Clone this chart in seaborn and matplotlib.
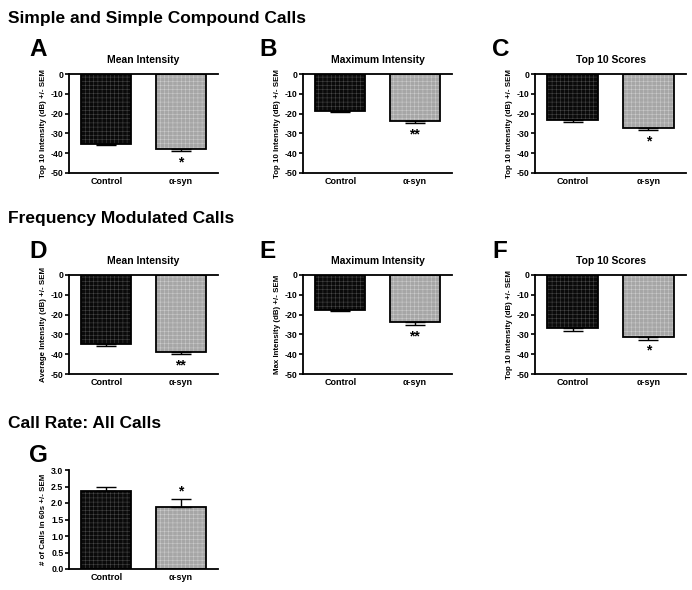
import numpy as np
import pandas as pd
import matplotlib
matplotlib.use("Agg")
import matplotlib.pyplot as plt
from matplotlib.patches import Rectangle
import seaborn as sns

sns.set_style("white")
plt.rcParams["font.family"] = ["Liberation Sans", "DejaVu Sans"]
plt.rcParams["axes.unicode_minus"] = False
plt.rcParams["hatch.linewidth"] = 0.35
plt.rcParams["text.color"] = "black"
plt.rcParams["axes.labelcolor"] = "black"
plt.rcParams["xtick.color"] = "black"
plt.rcParams["ytick.color"] = "black"

# ---- data ----
groups = ["Control", "α-syn"]

a_mean = [-35.3, -37.8]
a_sem = [0.8, 1.2]
b_mean = [-18.5, -23.5]
b_sem = [0.5, 1.2]
c_mean = [-23.2, -27.2]
c_sem = [0.8, 1.0]
d_mean = [-35.0, -38.9]
d_sem = [0.7, 0.9]
e_mean = [-17.7, -23.8]
e_sem = [0.7, 1.4]
f_mean = [-26.9, -31.3]
f_sem = [1.2, 1.4]
g_mean = [2.37, 1.89]
g_sem = [0.12, 0.22]

panel_letters = ["A", "B", "C", "D", "E", "F", "G"]
panel_titles = ["Mean Intensity", "Maximum Intensity", "Top 10 Scores",
                "Mean Intensity", "Maximum Intensity", "Top 10 Scores", ""]
y_labels = ["Top 10 Intensity (dB) +/- SEM", "Top 10 Intensity (dB) +/- SEM",
            "Top 10 Intensity (dB) +/- SEM", "Average Intensity (dB) +/- SEM",
            "Max Intensity (dB) +/- SEM", "Top 10 Intensity (dB) +/- SEM",
            "# of Calls in 60s +/- SEM"]
stars = ["*", "**", "*", "**", "**", "*", "*"]
section_titles = ["Simple and Simple Compound Calls",
                  "Frequency Modulated Calls", "Call Rate: All Calls"]

means = [a_mean, b_mean, c_mean, d_mean, e_mean, f_mean, g_mean]
sems = [a_sem, b_sem, c_sem, d_sem, e_sem, f_sem, g_sem]

fill_cols = {"Control": "#0a0a0a", "α-syn": "#a6a6a6"}
hatch_cols = {"Control": "#4a4a4a", "α-syn": "#cdcdcd"}

W, H = 692, 590
fig = plt.figure(figsize=(W / 100, H / 100), dpi=100)

# axes boxes in pixels: left, top, right, bottom
col_x = [(69, 218), (303, 452), (535, 686)]
row_y = [(74, 173), (275, 374), (470, 569)]


def add_axes_px(x0, y0, x1, y1):
    return fig.add_axes([x0 / W, 1 - y1 / H, (x1 - x0) / W, (y1 - y0) / H])


def draw_panel(ax, mean, sem, title, ylabel, star, negative):
    df = pd.DataFrame({"group": groups, "value": mean})
    sns.barplot(data=df, x="group", y="value", hue="group", order=groups,
                palette=fill_cols, width=0.67, errorbar=None, legend=False,
                ax=ax)
    for p, g in zip(ax.patches, groups):
        p.set_hatch("++++")
        p.set_edgecolor(hatch_cols[g])
        p.set_linewidth(0)
        ax.add_patch(Rectangle(p.get_xy(), p.get_width(), p.get_height(),
                               fill=False, edgecolor="black", linewidth=1.3,
                               zorder=3))
    x = np.arange(len(groups))
    if negative:
        yerr = [sem, [0] * len(sem)]
    else:
        yerr = [[0] * len(sem), sem]
    ax.errorbar(x, mean, yerr=yerr, fmt="none", ecolor="black",
                elinewidth=1.0, capsize=7, capthick=1.0, zorder=4)
    # significance marker on the alpha-syn bar
    end = mean[1] - sem[1] if negative else mean[1] + sem[1]
    ax.annotate(star, (x[1], end), xytext=(0, -3 if negative else 1),
                textcoords="offset points", ha="center",
                va="top" if negative else "bottom",
                fontsize=10, fontweight="bold")

    if negative:
        ax.set_ylim(-50, 0)
        ax.set_yticks([0, -10, -20, -30, -40, -50])
        ax.spines["top"].set_visible(True)
    else:
        ax.set_ylim(0, 3.0)
        ax.set_yticks(np.arange(0, 3.01, 0.5))
        ax.set_yticklabels([f"{v:.1f}" for v in np.arange(0, 3.01, 0.5)])
        ax.spines["top"].set_visible(False)
    ax.set_xlim(-0.5, 1.5)
    ax.spines["right"].set_visible(False)
    for s in ["left", "top", "bottom"]:
        ax.spines[s].set_linewidth(1.3)
        ax.spines[s].set_color("black")
    ax.tick_params(axis="y", direction="out", length=3, width=1.2,
                   labelsize=6.3, pad=1, left=True)
    ax.tick_params(axis="x", length=0, labelsize=6.5, pad=3)
    for lab in ax.get_xticklabels() + ax.get_yticklabels():
        lab.set_fontweight("bold")
    ax.set_xlabel("")
    ax.set_ylabel(ylabel, fontsize=5.7, fontweight="bold", labelpad=3)
    if title:
        ax.set_title(title, fontsize=7.5, fontweight="bold", pad=8)


for i in range(7):
    r, c = divmod(i, 3)
    x0, x1 = col_x[c]
    y0, y1 = row_y[r]
    ax = add_axes_px(x0, y0, x1, y1)
    draw_panel(ax, means[i], sems[i], panel_titles[i], y_labels[i], stars[i],
               negative=(i < 6))
    # panel letter
    lx = [29, 259, 492][c]
    ly = [49, 252, 456][r]
    fig.text(lx / W, 1 - ly / H, panel_letters[i], fontsize=17.5,
             fontweight="bold", ha="left", va="center", color="black")

for txt, y in zip(section_titles, [18, 219, 424]):
    fig.text(8 / W, 1 - y / H, txt, fontsize=12.5, fontweight="bold",
             ha="left", va="center", color="black")

fig.savefig("out.png", dpi=100)
